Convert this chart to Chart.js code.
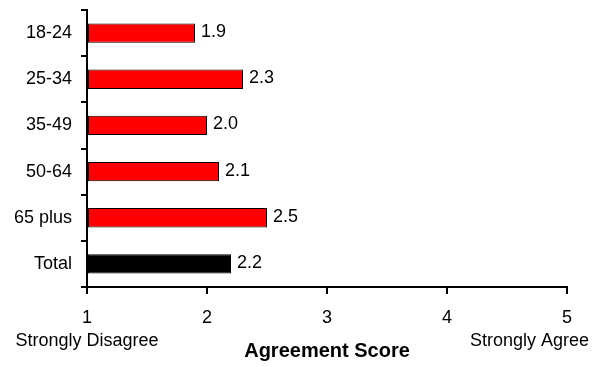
<!DOCTYPE html>
<html>
<head>
<meta charset="utf-8">
<script src="https://cdn.jsdelivr.net/npm/chart.js@4/dist/chart.umd.min.js"></script>
<style>
  html, body { margin: 0; padding: 0; background: #ffffff; }
  #wrap { width: 600px; height: 367px; }
</style>
</head>
<body>
<div id="wrap"><canvas id="chart" width="600" height="367"></canvas></div>
<script>
// Age groups and their mean agreement scores (1 = Strongly Disagree, 5 = Strongly Agree)
const ageGroups = ['18-24', '25-34', '35-49', '50-64', '65 plus', 'Total'];
const scores = [1.9, 2.3, 2.0, 2.1, 2.5, 2.2];
const barColors = ['#ff0000', '#ff0000', '#ff0000', '#ff0000', '#ff0000', '#000000'];
const scoreTicks = [1, 2, 3, 4, 5];
const scaleEndLabels = ['Strongly Disagree', 'Strongly Agree'];
const axisTitle = 'Agreement Score';

const FONT = "'Liberation Sans', Arial, sans-serif";

// Writes the score next to the end of each bar
const valueLabels = {
  id: 'valueLabels',
  afterDatasetsDraw(chart) {
    const ctx = chart.ctx;
    const meta = chart.getDatasetMeta(0);
    ctx.save();
    ctx.font = '18px ' + FONT;
    ctx.fillStyle = '#000000';
    ctx.textAlign = 'left';
    ctx.textBaseline = 'alphabetic';
    meta.data.forEach((bar, i) => {
      ctx.fillText(scores[i].toFixed(1), bar.x + 6, bar.y + 4);
    });
    ctx.restore();
  }
};

// Anchor texts under both ends of the scale and the axis title
const scaleCaptions = {
  id: 'scaleCaptions',
  afterDraw(chart) {
    const ctx = chart.ctx;
    const x = chart.scales.x;
    const area = chart.chartArea;
    ctx.save();
    ctx.fillStyle = '#000000';
    ctx.textBaseline = 'alphabetic';
    ctx.font = '18px ' + FONT;
    ctx.textAlign = 'center';
    ctx.fillText(scaleEndLabels[0], x.getPixelForValue(scoreTicks[0]), 346);
    ctx.textAlign = 'right';
    ctx.fillText(scaleEndLabels[1], x.getPixelForValue(scoreTicks[scoreTicks.length - 1]) + 22, 346);
    ctx.font = 'bold 20px ' + FONT;
    ctx.textAlign = 'center';
    ctx.fillText(axisTitle, (area.left + area.right) / 2, 357);
    ctx.restore();
  }
};

new Chart(document.getElementById('chart'), {
  type: 'bar',
  data: {
    labels: ageGroups,
    datasets: [{
      data: scores,
      backgroundColor: barColors,
      borderColor: '#000000',
      borderWidth: 1,
      borderSkipped: false,
      categoryPercentage: 1,
      barPercentage: 0.42,
      base: scoreTicks[0]
    }]
  },
  options: {
    indexAxis: 'y',
    responsive: false,
    animation: false,
    events: [],
    layout: { padding: { left: 0, top: 10, right: 33, bottom: 0 } },
    plugins: {
      legend: { display: false },
      tooltip: { enabled: false }
    },
    scales: {
      x: {
        type: 'linear',
        min: scoreTicks[0],
        max: scoreTicks[scoreTicks.length - 1],
        afterBuildTicks(scale) {
          scale.ticks = scoreTicks.map(v => ({ value: v }));
        },
        afterFit(scale) { scale.height = 80; },
        border: { display: true, color: '#000000', width: 2 },
        grid: {
          drawOnChartArea: false,
          drawTicks: true,
          tickLength: 7,
          color: '#000000',
          lineWidth: 2
        },
        ticks: {
          color: '#000000',
          font: { family: FONT, size: 18 },
          padding: 13,
          maxRotation: 0
        }
      },
      y: {
        type: 'category',
        afterFit(scale) {
          scale.width = 87;
          scale.paddingTop = 0;
          scale.paddingBottom = 0;
        },
        border: { display: true, color: '#000000', width: 2 },
        grid: {
          offset: true,
          drawOnChartArea: false,
          drawTicks: true,
          tickLength: 6,
          color: '#000000',
          lineWidth: 2
        },
        ticks: {
          color: '#000000',
          font: { family: FONT, size: 18 },
          padding: 9
        }
      }
    }
  },
  plugins: [valueLabels, scaleCaptions]
});
</script>
</body>
</html>
